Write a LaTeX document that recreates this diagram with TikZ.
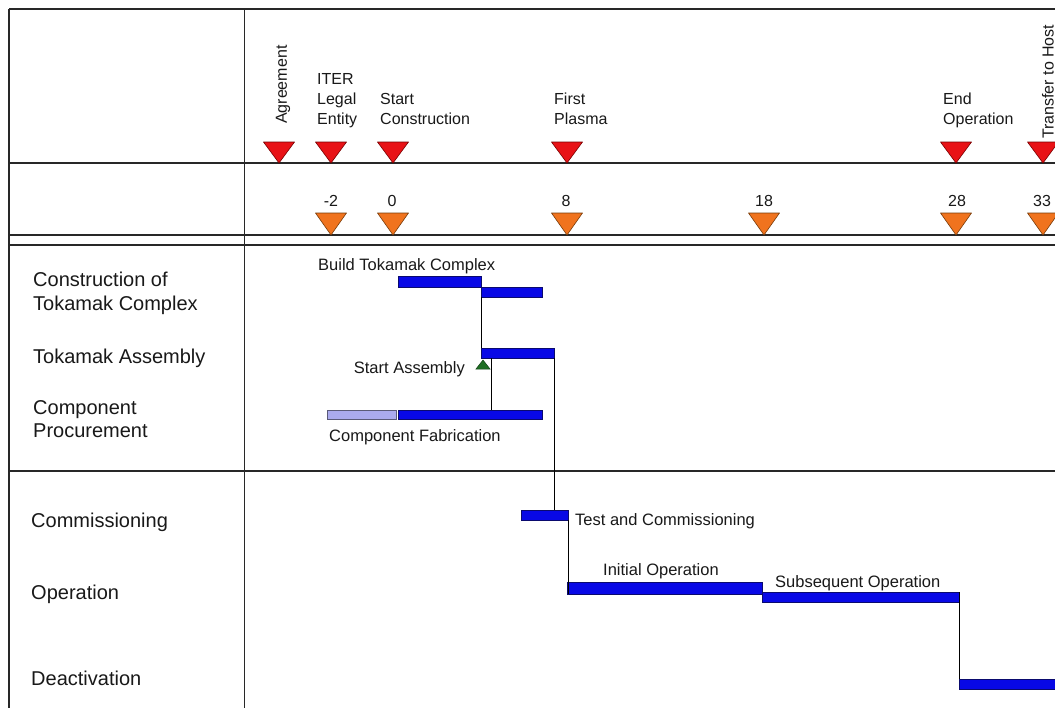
\documentclass[tikz,border=0pt]{standalone}
\usepackage{fontspec}
\setmainfont{Liberation Sans}
\definecolor{txt}{RGB}{25,25,25}
\definecolor{gridc}{RGB}{40,40,40}
\definecolor{barblue}{RGB}{8,8,230}
\definecolor{barline}{RGB}{10,10,110}
\definecolor{barlight}{RGB}{170,170,238}
\definecolor{barlightline}{RGB}{90,90,120}
\definecolor{redfill}{RGB}{232,18,22}
\definecolor{redline}{RGB}{120,0,0}
\definecolor{orfill}{RGB}{240,115,30}
\definecolor{orline}{RGB}{120,60,10}
\definecolor{grfill}{RGB}{30,110,35}
\tikzset{
  gridline/.style={draw=gridc, line width=1.3pt},
  bar/.style={draw=barline, fill=barblue, line width=0.7pt, inner sep=0pt, outer sep=0pt, anchor=north west},
  lightbar/.style={draw=barlightline, fill=barlight, line width=0.7pt, inner sep=0pt, outer sep=0pt, anchor=north west},
  link/.style={draw=black, line width=0.8pt},
  redtri/.style={fill=redfill, draw=redline, line width=0.6pt, line join=round},
  ortri/.style={fill=orfill, draw=orline, line width=0.6pt, line join=round},
  grtri/.style={fill=grfill, draw=grfill!60!black, line width=0.5pt},
  hdr/.style={font=\fontsize{16}{19}\selectfont, text=txt, inner sep=0pt, anchor=base west},
  num/.style={font=\fontsize{16}{19}\selectfont, text=txt, inner sep=0pt, anchor=base},
  rowlab/.style={font=\fontsize{20}{24}\selectfont, text=txt, inner sep=0pt, anchor=base west},
  barlab/.style={font=\fontsize{16.5}{20}\selectfont, text=txt, inner sep=0pt, anchor=base west},
  vlab/.style={font=\fontsize{16}{19}\selectfont, text=txt, inner sep=0pt, rotate=90, anchor=west},
}
\begin{document}
\begin{tikzpicture}[x=1pt, y=-1pt]
\useasboundingbox (0,0) rectangle (1055,707);
\clip (0,0) rectangle (1055,707);
\fill[white] (0,0) rectangle (1055,707);

% grid
\draw[gridline] (9,9) -- (1060,9);
\draw[gridline] (9,9) -- (9,710);
\draw[gridline] (244.5,9) -- (244.5,710);
\foreach \yy in {163,235,245,471} \draw[gridline] (9,\yy) -- (1060,\yy);

% milestone triangles
\foreach \cx in {279,331,393,567,956,1043}
  \filldraw[redtri] (\cx-15.5,142) -- (\cx+15.5,142) -- (\cx,163) -- cycle;
\foreach \cx in {331,393,567,764,956,1043}
  \filldraw[ortri] (\cx-15.5,213) -- (\cx+15.5,213) -- (\cx,235) -- cycle;

% milestone labels
\node[vlab] (agr) at (283,124) {Agreement};
\node[hdr] (iter1) at (317,84) {ITER};
\node[hdr] (iter2) at (317,104) {Legal};
\node[hdr] (iter3) at (317,124) {Entity};
\node[hdr] (sc1) at (380,104) {Start};
\node[hdr] (sc2) at (380,124) {Construction};
\node[hdr] (fp1) at (554,104) {First};
\node[hdr] (fp2) at (554,124) {Plasma};
\node[hdr] (eo1) at (943,104) {End};
\node[hdr] (eo2) at (943,124) {Operation};
\node[vlab] (tth) at (1048,139) {Transfer to Host};

% year numbers
\node[num] (ym2) at (331,206) {-2};
\node[num] (y0) at (392,206) {0};
\node[num] (y8) at (566,206) {8};
\node[num] (y18) at (764,206) {18};
\node[num] (y28) at (957,206) {28};
\node[num] (y33) at (1042,206) {33};

% row labels
\node[rowlab] (r1a) at (33,286) {Construction of};
\node[rowlab] (r1b) at (33,310) {Tokamak Complex};
\node[rowlab] (r2) at (33,363) {Tokamak Assembly};
\node[rowlab] (r3a) at (33,414) {Component};
\node[rowlab] (r3b) at (33,437) {Procurement};
\node[rowlab] (r4) at (31,527) {Commissioning};
\node[rowlab] (r5) at (31,599) {Operation};
\node[rowlab] (r6) at (31,685) {Deactivation};

% bars
\node[bar, minimum width=83pt, minimum height=11pt] (btc1) at (398,276) {};
\node[bar, minimum width=61pt, minimum height=10pt] (btc2) at (481,287) {};
\node[bar, minimum width=73pt, minimum height=10pt] (ta) at (481,348) {};
\node[lightbar, minimum width=69pt, minimum height=9pt] (cf0) at (327,410) {};
\node[bar, minimum width=144pt, minimum height=9pt] (cf) at (398,410) {};
\node[bar, minimum width=47pt, minimum height=10pt] (tc) at (521,510) {};
\node[bar, minimum width=195pt, minimum height=12pt] (io) at (567,582) {};
\node[bar, minimum width=197pt, minimum height=10pt] (so) at (762,592) {};
\node[bar, minimum width=110pt, minimum height=10pt] (dc) at (959,679) {};

% connectors
\draw[link] (btc2.south west) -- (ta.north west);
\draw[link] (ta.south west) ++(10,0) -- ++(0,52);
\draw[link] (ta.south east) -- (ta.south east |- tc.north);
\draw[link] (tc.south east) -- (tc.south east |- io.south);
\draw[link] (so.north east) -- (so.north east |- dc.north);

% start assembly milestone
\filldraw[grtri] (476,369) -- (490,369) -- (483,360) -- cycle;

% bar labels
\node[barlab] (lbtc) at (318,270) {Build Tokamak Complex};
\node[barlab, anchor=base east] (lsa) at (465,373) {Start Assembly};
\node[barlab] (lcf) at (329,441) {Component Fabrication};
\node[barlab] (ltc) at (575,525) {Test and Commissioning};
\node[barlab] (lio) at (603,575) {Initial Operation};
\node[barlab] (lso) at (775,587) {Subsequent Operation};
\end{tikzpicture}
\end{document}
